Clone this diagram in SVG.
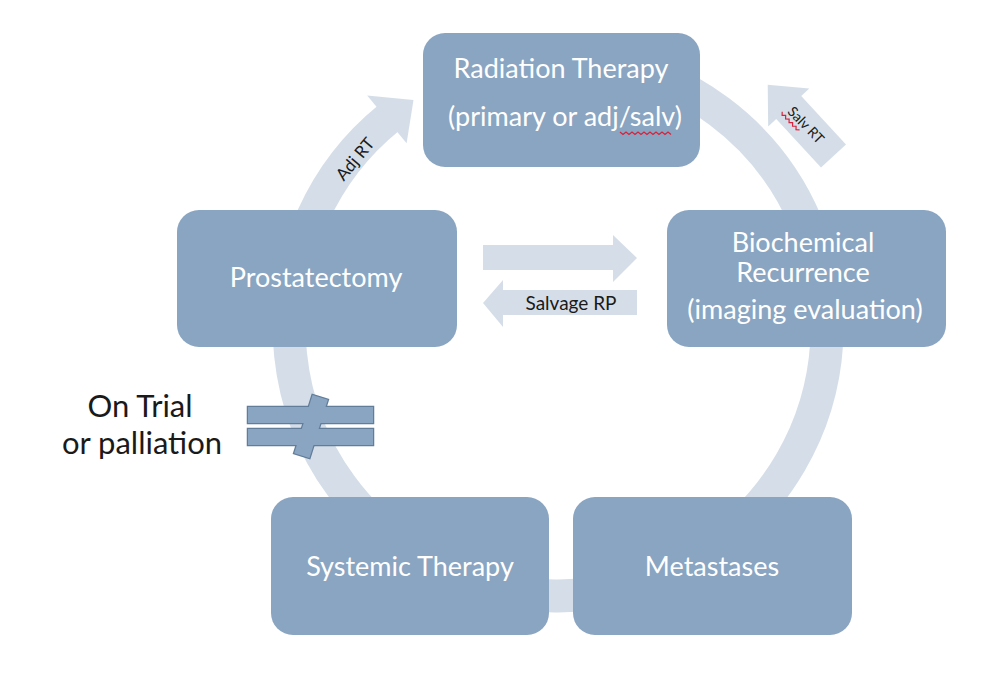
<svg xmlns="http://www.w3.org/2000/svg" width="988" height="684" viewBox="0 0 988 684">
<style>
.node{fill:#8aa5c1;}
.nt{font-family:Lato,"Noto Sans",sans-serif;font-size:27px;fill:#ffffff;text-anchor:middle;}
.lt{font-family:Lato,"Noto Sans",sans-serif;fill:#1a1a1a;text-anchor:middle;}
.arr{fill:#d5dee8;}
.sq{fill:none;stroke:#d8213a;stroke-width:1.2;}
</style>
<rect width="988" height="684" fill="#ffffff"/>
<g id="connectors">
  <path d="M466.0,74.2 A269,269 0 1 1 388.7,118.0" fill="none" stroke="#d5dee8" stroke-width="33"/>
  <polygon class="arr" points="367.2,95.4 413.5,100.1 406.6,143.3"/>
  <text class="lt" font-size="17" transform="translate(355,159) rotate(-50)" y="6">Adj RT</text>
  <polygon class="arr" transform="translate(833.5,156) rotate(-132.7)" points="0,-17 66,-17 66,-28 97,0 66,28 66,17 0,17"/>
  <g transform="translate(806,125) rotate(46)">
    <text class="lt" font-size="14" y="5">Salv RT</text>
    <path class="sq" d="M-26,8 l2.5,2.5 l2.5,-2.5 l2.5,2.5 l2.5,-2.5 l2.5,2.5 l2.5,-2.5 l2.5,2.5 l2.5,-2.5 l2.5,2.5 l2.5,-2.5"/>
  </g>
  <polygon class="arr" points="483,245 613,245 613,235 637,258 613,282 613,270 483,270"/>
  <polygon class="arr" points="637,290 503,290 503,280 483,303 503,327 503,315 637,315"/>
  <text class="lt" font-size="19" x="571" y="310">Salvage RP</text>
</g>
<g id="node-radiation">
  <rect class="node" x="423" y="33" width="277" height="134" rx="22"/>
  <text class="nt" x="561" y="78">Radiation Therapy</text>
  <text class="nt" x="565" y="126">(primary or adj/salv)</text>
  <path class="sq" d="M620,132 l3,2.5 l3,-2.5 l3,2.5 l3,-2.5 l3,2.5 l3,-2.5 l3,2.5 l3,-2.5 l3,2.5 l3,-2.5 l3,2.5 l3,-2.5 l3,2.5 l3,-2.5 l3,2.5 l3,-2.5 l3,2.5"/>
</g>
<g id="node-prostatectomy">
  <rect class="node" x="177" y="210" width="280" height="137" rx="22"/>
  <text class="nt" x="316" y="287">Prostatectomy</text>
</g>
<g id="node-biochemical">
  <rect class="node" x="667" y="210" width="279" height="137" rx="22"/>
  <text class="nt" x="803" y="252">Biochemical</text>
  <text class="nt" x="803" y="282">Recurrence</text>
  <text class="nt" x="805" y="319">(imaging evaluation)</text>
</g>
<g id="node-systemic">
  <rect class="node" x="271" y="497" width="278" height="138" rx="22"/>
  <text class="nt" x="410" y="576">Systemic Therapy</text>
</g>
<g id="node-metastases">
  <rect class="node" x="573" y="497" width="279" height="138" rx="22"/>
  <text class="nt" x="712" y="576">Metastases</text>
</g>
<g id="not-equal">
  <g fill="none" stroke="#627d99" stroke-width="2.5">
    <rect x="248" y="407" width="125" height="16"/>
    <rect x="248" y="429" width="125" height="16"/>
    <rect x="303" y="396" width="16" height="61" transform="rotate(17.5 311 426.5)"/>
  </g>
  <g fill="#8aa5c1">
    <rect x="248" y="407" width="125" height="16"/>
    <rect x="248" y="429" width="125" height="16"/>
    <rect x="303" y="396" width="16" height="61" transform="rotate(17.5 311 426.5)"/>
  </g>
</g>
<g id="label-trial">
  <text class="lt" font-size="31" x="140" y="417" fill="#000">On Trial</text>
  <text class="lt" font-size="31" x="142" y="454" fill="#000">or palliation</text>
</g>
</svg>
